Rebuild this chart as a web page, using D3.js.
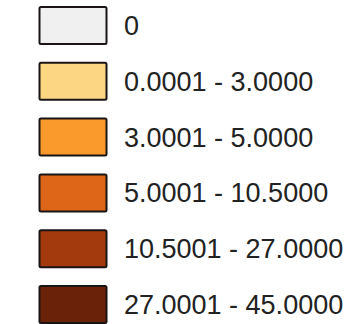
<!DOCTYPE html>
<html>
<head>
<meta charset="utf-8">
<script src="https://cdn.jsdelivr.net/npm/d3@7"></script>
<style>
  html, body { margin: 0; padding: 0; background: #ffffff; }
  svg { display: block; }
</style>
</head>
<body>
<svg id="legend" width="353" height="324"></svg>
<script>
// Class breaks and fill colours of the choropleth legend
const classLabels = ["0", "0.0001 - 3.0000", "3.0001 - 5.0000", "5.0001 - 10.5000", "10.5001 - 27.0000", "27.0001 - 45.0000"];
const classColors = ["#f1f0f0", "#fdd683", "#fb9a2c", "#dd6619", "#a33a0d", "#6a2308"];

const svg = d3.select("#legend");

// One row per class, evenly spaced down the panel
const y = d3.scaleBand()
  .domain(classLabels)
  .range([7, 323])
  .paddingInner(0.337)
  .paddingOuter(0);

const rows = svg.selectAll("g.row")
  .data(classLabels)
  .join("g")
  .attr("class", "row")
  .attr("transform", d => `translate(0,${y(d)})`);

rows.append("rect")
  .attr("x", 39.5)
  .attr("y", 0)
  .attr("width", 67)
  .attr("height", y.bandwidth())
  .attr("rx", 1.5)
  .attr("fill", (d, i) => classColors[i])
  .attr("stroke", "#1a1414")
  .attr("stroke-width", 2);

rows.append("text")
  .attr("x", 124)
  .attr("y", y.bandwidth() / 2)
  .attr("dy", "0.35em")
  .attr("font-family", "Liberation Sans, Arial, sans-serif")
  .attr("font-size", 27)
  .attr("fill", "#222222")
  .text(d => d);
</script>
</body>
</html>
